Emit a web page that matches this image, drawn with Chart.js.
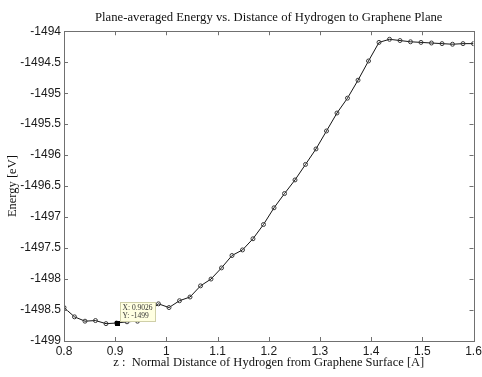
<!DOCTYPE html>
<html>
<head>
<meta charset="utf-8">
<title>Plane-averaged Energy</title>
<script src="https://cdn.jsdelivr.net/npm/chart.js@4/dist/chart.umd.min.js"></script>
<style>
    html, body { margin: 0; padding: 0; background: #fff; }
    canvas { display: block; }
</style>
</head>
<body>
<canvas id="energyChart" width="482" height="377"></canvas>
<script>
// Normal distance of H above the graphene plane [A]
const distance = [
    0.8000, 0.8205, 0.8410, 0.8615, 0.8821, 0.9026, 0.9231, 0.9436, 0.9641, 0.9846,
    1.0051, 1.0256, 1.0462, 1.0667, 1.0872, 1.1077, 1.1282, 1.1487, 1.1692, 1.1897,
    1.2103, 1.2308, 1.2513, 1.2718, 1.2923, 1.3128, 1.3333, 1.3538, 1.3744, 1.3949,
    1.4154, 1.4359, 1.4564, 1.4769, 1.4974, 1.5179, 1.5385, 1.5590, 1.5795, 1.6000
];

// Plane-averaged total energy [eV]
const energy = [
    -1498.46, -1498.61, -1498.68, -1498.67, -1498.72, -1498.71, -1498.69, -1498.68, -1498.55, -1498.40,
    -1498.46, -1498.35, -1498.29, -1498.11, -1498.00, -1497.82, -1497.62, -1497.53, -1497.35, -1497.12,
    -1496.85, -1496.62, -1496.40, -1496.15, -1495.90, -1495.61, -1495.32, -1495.08, -1494.79, -1494.48,
    -1494.18, -1494.13, -1494.15, -1494.17, -1494.18, -1494.19, -1494.20, -1494.21, -1494.20, -1494.20
];

const xTicks = [0.8, 0.9, 1.0, 1.1, 1.2, 1.3, 1.4, 1.5, 1.6];
const yTicks = [-1494, -1494.5, -1495, -1495.5, -1496, -1496.5, -1497, -1497.5, -1498, -1498.5, -1499];

// index of the point with the data cursor on it
const tipIndex = 5;

const boxColor = '#707070';
const serif = "'Liberation Serif', 'DejaVu Serif', serif";
const sans = "'Liberation Sans', Arial, sans-serif";

// Box round the plot with short inward ticks on all four sides
const innerTicks = {
    id: 'innerTicks',
    afterDraw(chart) {
        const {ctx, chartArea: a, scales: {x, y}} = chart;
        const len = 4;
        ctx.save();
        ctx.strokeStyle = boxColor;
        ctx.lineWidth = 1;
        ctx.beginPath();
        xTicks.forEach(v => {
            const px = Math.round(x.getPixelForValue(v)) + 0.5;
            ctx.moveTo(px, a.bottom); ctx.lineTo(px, a.bottom - len);
            ctx.moveTo(px, a.top); ctx.lineTo(px, a.top + len);
        });
        yTicks.forEach(v => {
            const py = Math.round(y.getPixelForValue(v)) + 0.5;
            ctx.moveTo(a.left, py); ctx.lineTo(a.left + len, py);
            ctx.moveTo(a.right, py); ctx.lineTo(a.right - len, py);
        });
        ctx.stroke();
        ctx.strokeRect(Math.round(a.left) + 0.5, Math.round(a.top) + 0.5,
            Math.round(a.right - a.left), Math.round(a.bottom - a.top));
        ctx.restore();
    }
};

// Data cursor label next to the selected point
const dataTip = {
    id: 'dataTip',
    afterDatasetsDraw(chart) {
        const {ctx, scales: {x, y}} = chart;
        const px = x.getPixelForValue(distance[tipIndex]);
        const py = y.getPixelForValue(energy[tipIndex]);
        const lines = [
            'X: ' + distance[tipIndex].toFixed(4),
            'Y: ' + energy[tipIndex].toPrecision(4)
        ];
        ctx.save();
        ctx.fillStyle = '#000';
        ctx.fillRect(Math.round(px) - 2, Math.round(py) - 2, 5, 5);

        ctx.font = '7.5px ' + serif;
        const w = Math.ceil(Math.max(...lines.map(t => ctx.measureText(t).width))) + 5;
        const h = 19;
        const left = Math.round(px) + 3.5;
        const top = Math.round(py) - h - 1.5;
        ctx.fillStyle = '#ffffe1';
        ctx.strokeStyle = '#cfcfa8';
        ctx.fillRect(left, top, w, h);
        ctx.strokeRect(left, top, w, h);
        ctx.fillStyle = '#333';
        ctx.textBaseline = 'middle';
        ctx.fillText(lines[0], left + 2, top + 5.5);
        ctx.fillText(lines[1], left + 2, top + 13.5);
        ctx.restore();
    }
};

const ctx = document.getElementById('energyChart').getContext('2d');
new Chart(ctx, {
    type: 'scatter',
    data: {
        datasets: [{
            data: distance.map((d, i) => ({x: d, y: energy[i]})),
            showLine: true,
            borderColor: '#151515',
            borderWidth: 1,
            tension: 0,
            pointRadius: 2,
            pointBorderWidth: 1,
            pointBorderColor: '#3a3a3a',
            pointBackgroundColor: 'rgba(0,0,0,0)'
        }]
    },
    options: {
        responsive: false,
        animation: false,
        devicePixelRatio: 1,
        layout: { padding: { left: 0, right: 0, top: 0, bottom: 0 } },
        plugins: {
            legend: { display: false },
            tooltip: { enabled: false },
            title: {
                display: true,
                fullSize: false,
                text: 'Plane-averaged Energy vs. Distance of Hydrogen to Graphene Plane',
                color: '#111',
                font: { family: serif, size: 12.7, weight: 'normal' },
                padding: { top: 10, bottom: 6 }
            }
        },
        scales: {
            x: {
                type: 'linear',
                min: 0.8,
                max: 1.6,
                afterBuildTicks: s => { s.ticks = xTicks.map(v => ({value: v})); },
                afterFit: s => {
                    s.height = 36;
                    // leave only half a label of room past the right edge
                    s.paddingLeft = 0;
                    s.paddingRight = 8.5;
                },
                grid: { display: false, drawTicks: false },
                border: { display: false },
                ticks: {
                    autoSkip: false,
                    maxRotation: 0,
                    padding: 3,
                    color: '#1a1a1a',
                    font: { family: sans, size: 12 },
                    callback: v => String(v)
                },
                title: {
                    display: true,
                    text: 'z :  Normal Distance of Hydrogen from Graphene Surface [A]',
                    color: '#111',
                    font: { family: serif, size: 12.5 },
                    padding: { top: 0, bottom: 7 }
                }
            },
            y: {
                type: 'linear',
                min: -1499,
                max: -1494,
                afterBuildTicks: s => { s.ticks = yTicks.map(v => ({value: v})); },
                afterFit: s => { s.width = 64; },
                grid: { display: false, drawTicks: false },
                border: { display: false },
                ticks: {
                    autoSkip: false,
                    padding: 3,
                    color: '#1a1a1a',
                    font: { family: sans, size: 12 },
                    callback: v => String(v)
                },
                title: {
                    display: true,
                    text: 'Energy [eV]',
                    color: '#111',
                    font: { family: serif, size: 12.5 },
                    padding: { top: 5, bottom: 0 }
                }
            }
        }
    },
    plugins: [innerTicks, dataTip]
});
</script>
</body>
</html>
